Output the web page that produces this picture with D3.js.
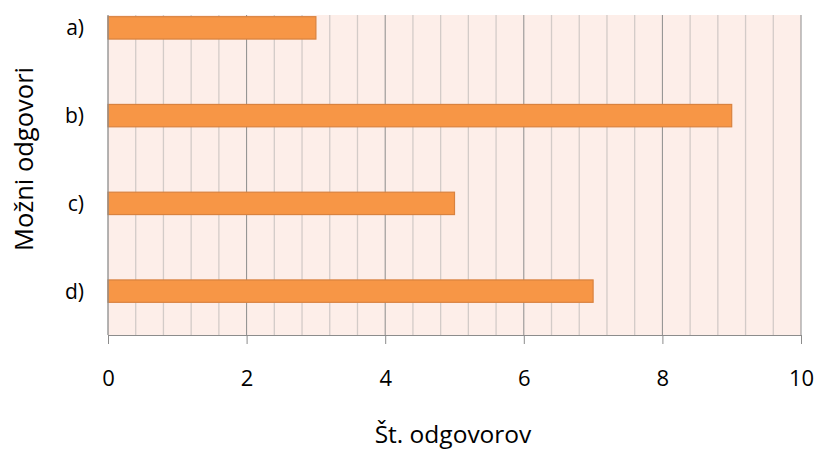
<!DOCTYPE html>
<html>
<head>
<meta charset="utf-8">
<script src="https://cdn.jsdelivr.net/npm/d3@7"></script>
<style>
  html, body { margin: 0; padding: 0; background: #fff; }
  svg { display: block; font-family: "Open Sans", "Noto Sans", sans-serif; }
</style>
</head>
<body>
<svg id="chart" width="819" height="451"></svg>
<script>
// Answer options and number of answers for each
const categories = ["a)", "b)", "c)", "d)"];
const values = [3, 9, 5, 7];
const xTicks = [0, 2, 4, 6, 8, 10];
const xTitle = "Št. odgovorov";
const yTitle = "Možni odgovori";

(function draw() {
  const svg = d3.select("#chart");
  const plotLeft = 108, plotRight = 801, plotTop = 15, plotBottom = 335;
  const step = 87.75;

  const x = d3.scaleLinear().domain([0, 10]).range([plotLeft, plotRight]);
  const y = d3.scaleBand().domain(categories)
    .range([plotBottom - step * categories.length, plotBottom])
    .paddingInner(0.745).paddingOuter(0.3725);

  // plot background
  svg.append("rect").attr("x", plotLeft).attr("y", plotTop)
    .attr("width", plotRight - plotLeft).attr("height", plotBottom - plotTop)
    .attr("fill", "#fdeee9");

  // minor gridlines
  const minor = d3.range(0, 10.001, 0.4).filter(v => Math.abs(v / 2 - Math.round(v / 2)) > 1e-6);
  svg.append("g").selectAll("line").data(minor).join("line")
    .attr("x1", d => x(d)).attr("x2", d => x(d))
    .attr("y1", plotTop).attr("y2", plotBottom)
    .attr("stroke", "#d3cbc8").attr("stroke-width", 1.3);

  // major gridlines
  svg.append("g").selectAll("line").data(xTicks.slice(1)).join("line")
    .attr("x1", d => x(d)).attr("x2", d => x(d))
    .attr("y1", plotTop).attr("y2", plotBottom)
    .attr("stroke", "#8c8c8c").attr("stroke-width", 1);

  // bars
  svg.append("g").selectAll("rect").data(values).join("rect")
    .attr("x", x(0))
    .attr("y", (d, i) => y(categories[i]))
    .attr("width", d => x(d) - x(0))
    .attr("height", y.bandwidth())
    .attr("fill", "#f79646")
    .attr("stroke", "#d9823f").attr("stroke-width", 1.2);

  // x axis
  const xAxis = d3.axisBottom(x).tickValues(xTicks).tickSize(9)
    .tickFormat(d3.format("d"));
  const gx = svg.append("g").attr("transform", `translate(0,${plotBottom})`).call(xAxis);
  gx.select(".domain").attr("stroke", "#8c8c8c").attr("d", `M${plotLeft},0.5H${plotRight}`);
  gx.selectAll(".tick line").attr("stroke", "#8c8c8c");
  gx.selectAll(".tick text").attr("fill", "#000").attr("y", 51).attr("dy", 0)
    .style("font-size", "22px").style("font-family", "'Open Sans', sans-serif");

  // y axis line
  svg.append("line").attr("x1", plotLeft).attr("x2", plotLeft)
    .attr("y1", plotTop).attr("y2", plotBottom)
    .attr("stroke", "#8c8c8c").attr("stroke-width", 1.3);

  // category labels
  svg.append("g").selectAll("text").data(categories).join("text")
    .attr("x", 84)
    .attr("y", d => y(d) + y.bandwidth() / 2)
    .attr("dy", "0.36em")
    .attr("text-anchor", "end")
    .style("font-size", "21px")
    .text(d => d);

  // axis titles
  svg.append("text").attr("x", 453).attr("y", 443)
    .attr("text-anchor", "middle").style("font-size", "24.5px").text(xTitle);
  svg.append("text").attr("transform", `translate(33,159) rotate(-90)`)
    .attr("text-anchor", "middle").style("font-size", "25.5px").text(yTitle);
})();
</script>
</body>
</html>
